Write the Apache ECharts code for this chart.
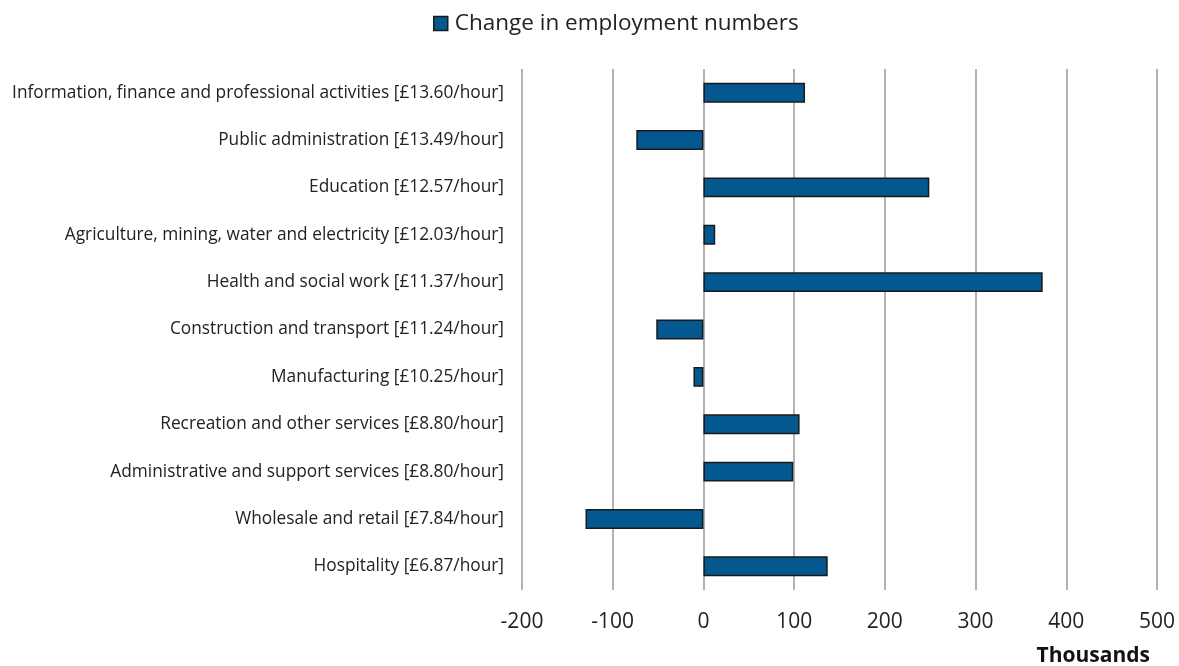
<!DOCTYPE html>
<html>
<head>
<meta charset="utf-8">
<script src="https://cdn.jsdelivr.net/npm/echarts@6/dist/echarts.min.js"></script>
<style>
html,body{margin:0;padding:0;background:#fff;}
#chart{width:1179px;height:666px;}
</style>
</head>
<body>
<div id="chart"></div>
<script>
const categories = [
  "Information, finance and professional activities [£13.60/hour]",
  "Public administration [£13.49/hour]",
  "Education [£12.57/hour]",
  "Agriculture, mining, water and electricity [£12.03/hour]",
  "Health and social work [£11.37/hour]",
  "Construction and transport [£11.24/hour]",
  "Manufacturing [£10.25/hour]",
  "Recreation and other services [£8.80/hour]",
  "Administrative and support services [£8.80/hour]",
  "Wholesale and retail [£7.84/hour]",
  "Hospitality [£6.87/hour]"
];
const values = [112, -74, 249, 13, 374, -52, -11, 106, 99, -130, 137];
const seriesName = "Change in employment numbers";
const axisTitle = "Thousands";

const chart = echarts.init(document.getElementById('chart'));
const fontFam = "'Open Sans', sans-serif";
chart.setOption({
  animation: false,
  textStyle: {fontFamily: fontFam},
  legend: {
    top: 7,
    left: 428,
    icon: 'rect',
    itemWidth: 14, itemHeight: 14,
    itemGap: 6,
    data: [seriesName],
    itemStyle: {borderColor: '#1a1a1a', borderWidth: 1.5},
    textStyle: {fontSize: 22.5, color: '#222', fontFamily: fontFam, padding: [0, 0, 0, 2]}
  },
  grid: {left: 522, right: 22, top: 69, bottom: 76, containLabel: false, outerBoundsMode: 'none'},
  xAxis: {
    type: 'value',
    min: -200, max: 500, interval: 100,
    axisLine: {show: false},
    axisTick: {show: false},
    axisLabel: {fontSize: 21, color: '#222', margin: 22},
    splitLine: {show: true, lineStyle: {color: '#9a9a9a', width: 1.5}},
    name: axisTitle,
    nameLocation: 'end',
    nameGap: 0,
    nameTextStyle: {fontSize: 21, fontWeight: 'bold', color: '#111', align: 'right', verticalAlign: 'top', padding: [56, 7, 0, 0]}
  },
  yAxis: {
    type: 'category',
    data: categories,
    inverse: true,
    axisLine: {show: false},
    axisTick: {show: false},
    axisLabel: {fontSize: 17.3, color: '#222', margin: 18}
  },
  series: [{
    name: seriesName,
    type: 'bar',
    data: values,
    barWidth: '42%',
    itemStyle: {color: '#03598f', borderColor: '#1a1a1a', borderWidth: 1.5}
  }]
});
</script>
</body>
</html>
